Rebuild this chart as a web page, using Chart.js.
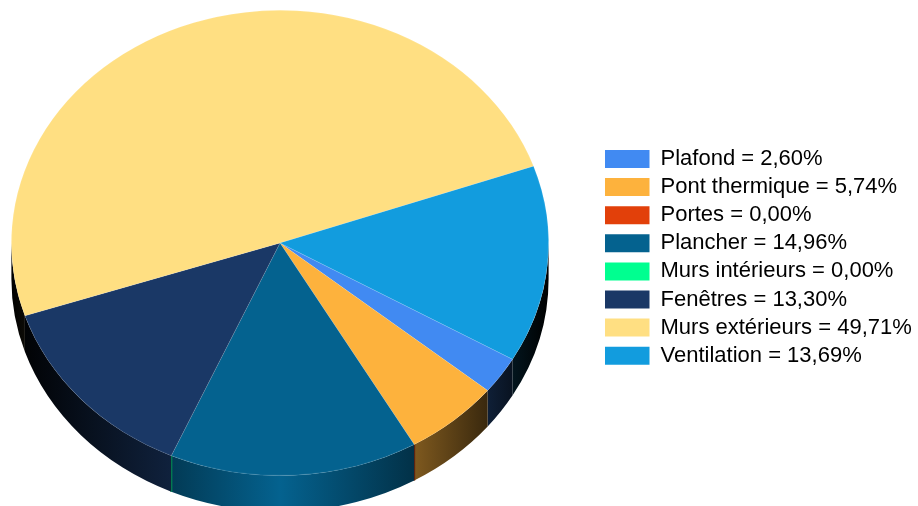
<!DOCTYPE html>
<html lang="fr">
<head>
  <meta charset="UTF-8">
  <title>Déperditions thermiques</title>
  <script src="https://cdn.jsdelivr.net/npm/chart.js"></script>
  <style>
    html, body { margin: 0; padding: 0; background: #fff; }
    canvas { display: block; }
  </style>
</head>
<body>
  <canvas id="pie" width="918" height="506"></canvas>
  <script>
    const categories = ['Plafond', 'Pont thermique', 'Portes', 'Plancher', 'Murs intérieurs', 'Fenêtres', 'Murs extérieurs', 'Ventilation'];
    const percentages = [2.60, 5.74, 0.00, 14.96, 0.00, 13.30, 49.71, 13.69];
    const sliceColors = ['#418AF2', '#FDB23D', '#E2400A', '#04628F', '#00FF90', '#1A3866', '#FFDF82', '#129CDE'];

    // Pie is drawn as a circle by Chart.js, then stretched sideways to look tilted
    const stretchX = 269 / 233;
    const depth = 36;

    const tiltPlugin = {
      id: 'tilt',
      beforeDatasetsDraw(chart) {
        const ctx = chart.ctx;
        const arcs = chart.getDatasetMeta(0).data;
        const cx = arcs[0].x, cy = arcs[0].y;
        const ry = arcs[0].outerRadius, rx = ry * stretchX;

        // side wall, shaded left to right for every slice that faces the front
        arcs.forEach((arc, i) => {
          const grad = ctx.createLinearGradient(cx - rx, 0, cx + rx, 0);
          grad.addColorStop(0, '#000');
          grad.addColorStop(0.5, sliceColors[i]);
          grad.addColorStop(1, '#000');
          ctx.save();
          if (arc.endAngle - arc.startAngle < 1e-6) {
            // empty slice only leaves a thin line on the wall
            const a = arc.startAngle;
            if (Math.sin(a) > 0) {
              const px = cx + rx * Math.cos(a), py = cy + ry * Math.sin(a);
              ctx.strokeStyle = grad;
              ctx.lineWidth = 2;
              ctx.beginPath();
              ctx.moveTo(px, py);
              ctx.lineTo(px, py + depth);
              ctx.stroke();
            }
          } else {
            ctx.fillStyle = grad;
            [0, 2 * Math.PI].forEach(turn => {
              const a = Math.max(arc.startAngle, turn);
              const b = Math.min(arc.endAngle, turn + Math.PI);
              if (a < b) {
                ctx.beginPath();
                ctx.ellipse(cx, cy, rx, ry, 0, a, b);
                ctx.ellipse(cx, cy + depth, rx, ry, 0, b, a, true);
                ctx.closePath();
                ctx.fill();
              }
            });
          }
          ctx.restore();
        });

        ctx.save();
        ctx.translate(cx, cy);
        ctx.scale(stretchX, 1);
        ctx.translate(-cx, -cy);
      },
      afterDatasetsDraw(chart) {
        chart.ctx.restore();
      },
      afterLayout(chart) {
        // legend sits right of the pie, outside the plot area
        const legend = chart.legend;
        legend.left = 598.9;
        legend.right = 918;
        legend.top = 141.9;
        legend.bottom = 506;
      }
    };

    new Chart(document.getElementById('pie'), {
      type: 'pie',
      data: {
        labels: categories,
        datasets: [{
          data: percentages,
          backgroundColor: sliceColors,
          borderColor: 'rgba(255,255,255,0.14)',
          borderWidth: c => (c.raw > 0 ? 0.7 : 0),
          clip: false
        }]
      },
      options: {
        responsive: false,
        animation: false,
        rotation: 120,
        layout: { padding: { left: 47, right: 405, top: 10, bottom: 30 } },
        plugins: {
          tooltip: { enabled: false },
          legend: {
            position: 'chartArea',
            align: 'start',
            labels: {
              boxWidth: 44.5,
              boxHeight: 18,
              padding: 6.1,
              color: '#1a1a1a',
              font: { family: '"Liberation Sans"', size: 22 },
              generateLabels: () => categories.map((name, i) => ({
                text: name + ' = ' + percentages[i].toFixed(2).replace('.', ',') + '%',
                fillStyle: sliceColors[i],
                strokeStyle: sliceColors[i],
                lineWidth: 0,
                index: i
              }))
            }
          }
        }
      },
      plugins: [tiltPlugin]
    });
  </script>
</body>
</html>
